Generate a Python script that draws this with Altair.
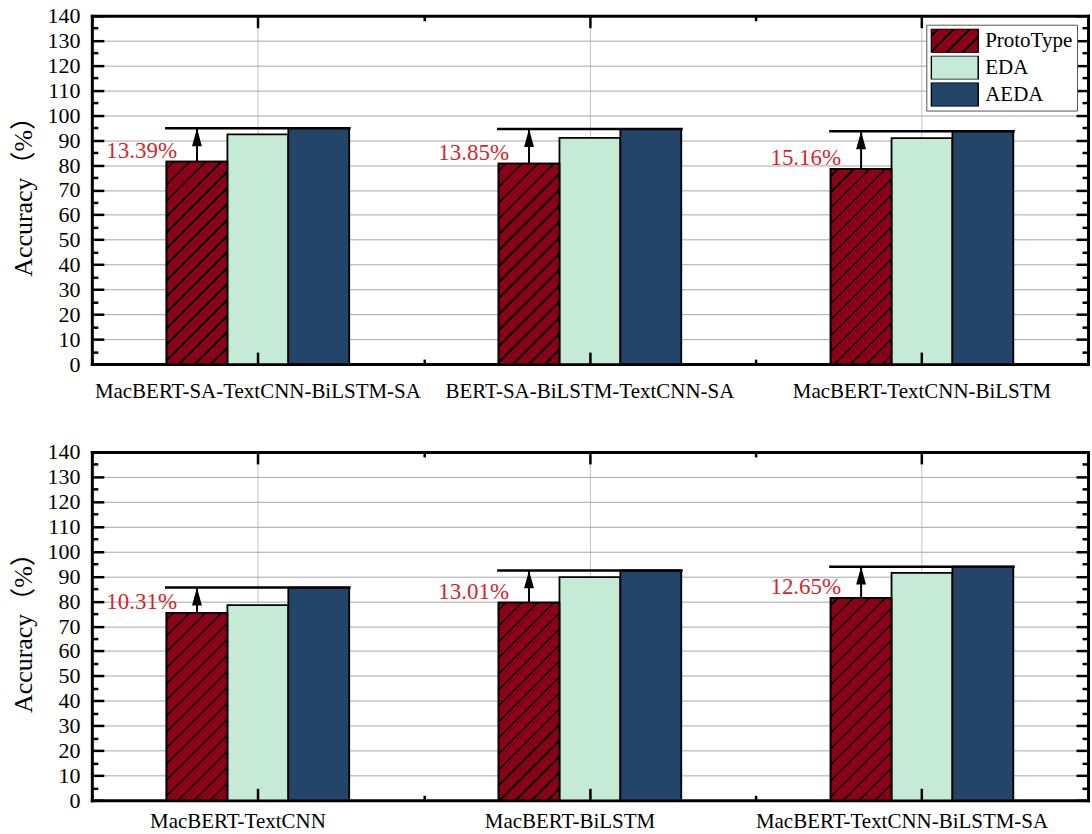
import altair as alt

# ---------------- data ----------------
series = ["ProtoType", "EDA", "AEDA"]
series_colors = ["#8b0016", "#c5ebd6", "#24456a"]

top_models = ["MacBERT-SA-TextCNN-BiLSTM-SA", "BERT-SA-BiLSTM-TextCNN-SA", "MacBERT-TextCNN-BiLSTM"]
top_prototype = [81.4, 80.6, 78.4]
top_eda = [92.3, 90.9, 90.8]
top_aeda = [94.8, 94.5, 93.6]
top_gain = ["13.39%", "13.85%", "15.16%"]

bottom_models = ["MacBERT-TextCNN", "MacBERT-BiLSTM", "MacBERT-TextCNN-BiLSTM-SA"]
bottom_prototype = [75.3, 79.4, 81.3]
bottom_eda = [78.4, 89.7, 91.4]
bottom_aeda = [85.5, 92.4, 93.9]
bottom_gain = ["10.31%", "13.01%", "12.65%"]

y_major = list(range(0, 141, 10))
y_minor = list(range(5, 140, 10))
y_title = "Accuracy（%）"

# ---------------- style ----------------
PW, PH = 998, 349
YMAX = 140
BAR_PX = 61
SIDE_PX = (PW / 3 - 3 * BAR_PX) / 2
FONT = "Times New Roman, Liberation Serif, serif"
TITLE_FONT = "Times New Roman, Liberation Serif, Noto Sans CJK SC, serif"
RED = "#d9252a"
HATCH_PERIOD = 16
HATCH_LW = 2.4


def hatch_stops(w, h, base, line="#000000", period=HATCH_PERIOD, lw=HATCH_LW, phase=6):
    tot = w + h
    stops = [(0.0, base)]
    pos = phase
    while pos < tot:
        a = pos / tot
        b = min((pos + lw) / tot, 1.0)
        stops += [(a, base), (a, line), (b, line), (b, base)]
        pos += period
    stops.append((1.0, base))
    k = tot / (w * w + h * h)
    return w * k, h * k, stops


def hatch_gradient(w, h, base):
    x2, y2, stops = hatch_stops(w, h, base)
    return {"gradient": "linear", "x1": 0, "y1": 0, "x2": round(x2, 5), "y2": round(y2, 5),
            "stops": [{"offset": round(o, 5), "color": c} for o, c in stops]}


def hatch_expr(w, h, base):
    x2, y2, stops = hatch_stops(w, h, base)
    st = ",".join("{offset:%.5f,color:'%s'}" % (o, c) for o, c in stops)
    return "{gradient:'linear',x1:0,y1:0,x2:%.5f,y2:%.5f,stops:[%s]}" % (x2, y2, st)


LEG_W, LEG_H = 47, 24
RECT_PATH = "M-1,-%.4fH1V%.4fH-1Z" % (LEG_H / LEG_W, LEG_H / LEG_W)
ARROW_PATH = "M0,0L0.55,2L-0.55,2Z"


def tick_axis(orient, offset, size, values=None, band=None, domain=False):
    kw = dict(orient=orient, offset=offset, labels=False, grid=False, domain=domain,
              ticks=True, tickSize=size, tickWidth=2.5, tickColor="black", zindex=1)
    if values is not None:
        kw["values"] = values
    if band is not None:
        kw["tickBand"] = band
    if domain:
        kw.update(domainColor="black", domainWidth=3, domainCap="square")
    return alt.Axis(**kw)


def panel(models, proto, eda, aeda, gain, label_offset, label_pad, legend_y):
    bars = []
    for g, p, e, a in zip(models, proto, eda, aeda):
        for s, v in zip(series, (p, e, a)):
            bars.append({"group": g, "series": s, "value": v})
    hatch = [{"group": g, "series": series[0], "value": p,
              "grad": hatch_gradient(BAR_PX, p * PH / YMAX, series_colors[0])}
             for g, p in zip(models, proto)]
    ann = [{"group": g, "series": series[0], "proto": p, "aeda": a, "gain": t}
           for g, p, a, t in zip(models, proto, aeda, gain)]

    x_scale = alt.Scale(domain=models, paddingInner=0, paddingOuter=0)
    xo_scale = alt.Scale(domain=series, paddingInner=0, paddingOuter=0,
                         range=[SIDE_PX, PW / 3 - SIDE_PX])
    y_scale = alt.Scale(domain=[0, YMAX], nice=False, zero=True)

    def X(axis):
        return alt.X("group:N", scale=x_scale, axis=axis, title=None, sort=models)

    XO = alt.XOffset("series:N", scale=xo_scale, sort=series)

    def Y(field, axis, title=None):
        if title is None:
            return alt.Y(field + ":Q", scale=y_scale, axis=axis, stack=None, title=None)
        return alt.Y(field + ":Q", scale=y_scale, axis=axis, stack=None, title=title)

    x_main = alt.Axis(orient="bottom", ticks=False, domain=True, domainColor="black",
                      domainWidth=3, domainCap="square", grid=True, gridColor="#c4c4c4",
                      gridWidth=1, labelFont=FONT, labelFontSize=21, labelColor="black",
                      labelPadding=label_pad, labelOffset=label_offset, labelAngle=0,
                      labelLimit=0)
    y_main = alt.Axis(orient="left", values=y_major, ticks=False, domain=True,
                      domainColor="black", domainWidth=3, domainCap="square", grid=True,
                      gridColor="#a8a8a8", gridWidth=1, labelFont=FONT, labelFontSize=22,
                      labelColor="black", labelPadding=12, titleFont=TITLE_FONT,
                      titleFontSize=26, titleFontWeight="normal", titleColor="black",
                      titlePadding=10)

    legend = alt.Legend(orient="none", legendX=836, legendY=legend_y, title=None,
                        symbolType=RECT_PATH,
                        symbolSize=LEG_W * LEG_W, clipHeight=LEG_H, rowPadding=3,
                        labelFont=FONT, labelFontSize=21, labelColor="black", labelOffset=6,
                        padding=4, fillColor="white", strokeColor="#555555",
                        symbolStrokeColor="black", symbolStrokeWidth=1.5, symbolOpacity=1,
                        labelLimit=0, cornerRadius=0)
    fill_scale = alt.Scale(domain=series,
                           range=[alt.ExprRef(expr=hatch_expr(LEG_W, LEG_H, series_colors[0])),
                                  series_colors[1], series_colors[2]])

    l_bars = alt.Chart(alt.Data(values=bars)).mark_bar(stroke="black", strokeWidth=1.8).encode(
        x=X(x_main), xOffset=XO, y=Y("value", y_main, y_title),
        fill=alt.Fill("series:N", scale=fill_scale, legend=legend, sort=series),
    )
    l_hatch = alt.Chart(alt.Data(values=hatch)).mark_bar(stroke="black", strokeWidth=1.8).encode(
        x=X(tick_axis("top", -PH, 12)), xOffset=XO,
        y=Y("value", tick_axis("right", -PW, 12, values=y_major)),
        fill=alt.Fill("grad:N", scale=None),
    )
    l_arrow = alt.Chart(alt.Data(values=ann)).mark_rule(color="black", strokeWidth=2).encode(
        x=X(tick_axis("bottom", -PH, 12, domain=True)), xOffset=XO,
        y=Y("proto", tick_axis("right", -PW, 6, values=y_minor)), y2="aeda:Q",
    )
    l_head = alt.Chart(alt.Data(values=ann)).mark_point(
        shape=ARROW_PATH, filled=True, size=324, color="black", opacity=1, strokeWidth=0
    ).encode(
        x=X(tick_axis("top", -PH, 5, band="extent")), xOffset=XO,
        y=Y("aeda", tick_axis("left", -PW, 12, values=y_major, domain=True)),
    )
    l_line = alt.Chart(alt.Data(values=ann)).mark_tick(
        orient="horizontal", size=3 * BAR_PX + 3, thickness=2.5, color="black", opacity=1
    ).encode(
        x=X(tick_axis("bottom", -PH, 5, band="extent")),
        y=Y("aeda", tick_axis("left", -PW, 6, values=y_minor)),
    )
    l_text = alt.Chart(alt.Data(values=ann)).mark_text(
        align="right", baseline="alphabetic", dx=-20, dy=-4, font=FONT, fontSize=23, color=RED
    ).encode(
        x=X(None), xOffset=XO, y=Y("proto", None), text="gain:N",
    )
    return alt.layer(l_bars, l_hatch, l_arrow, l_head, l_line, l_text).resolve_axis(
        x="independent", y="independent"
    ).properties(width=PW, height=PH)


top = panel(top_models, top_prototype, top_eda, top_aeda, top_gain, 0, 16, 9)
bottom = panel(bottom_models, bottom_prototype, bottom_eda, bottom_aeda, bottom_gain, -20, 10, 11)

chart = alt.vconcat(top, bottom, spacing=38).properties(
    padding={"left": 10, "top": 3, "right": 2, "bottom": 0}, background="white"
).configure_view(stroke="transparent").configure_axis(labelFont=FONT, titleFont=TITLE_FONT)

chart.save("out.html", embed_options={"renderer": "svg", "actions": False})
